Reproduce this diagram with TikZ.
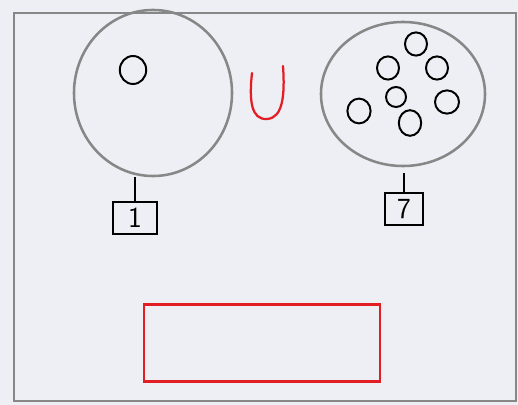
\documentclass[tikz,border=0pt]{standalone}
\usepackage{xcolor}
\usepackage{tikz}
\usetikzlibrary{positioning,shapes.geometric}
\definecolor{paper}{RGB}{237,239,244}
\definecolor{pencil}{RGB}{135,135,135}
\definecolor{marker}{RGB}{226,30,36}

\begin{document}
\begin{tikzpicture}[x=0.025cm,y=-0.025cm,
    bigset/.style={ellipse,draw=pencil,line width=1.8pt,inner sep=0pt},
    elem/.style={ellipse,draw=black,line width=1.4pt,inner sep=0pt,minimum width=0.55cm,minimum height=0.58cm},
    countbox/.style={draw=black,line width=1.5pt,font=\sffamily\huge,inner sep=0pt,minimum height=0.8cm}]
  \fill[paper] (0,0) rectangle (518,405);
  \useasboundingbox (0,0) rectangle (518,405);
  \draw[pencil,line width=1.8pt] (14,13) rectangle (516,401);
  % the two sets
  \node[bigset,minimum width=3.95cm,minimum height=4.15cm] (setA) at (153,93) {};
  \node[bigset,minimum width=4.1cm,minimum height=3.6cm] (setB) at (403,94) {};
  \node[elem,minimum width=0.66cm,minimum height=0.7cm] (a1) at (133,70) {};
  \node[elem] (b1) at (416,44) {};
  \node[elem] (b2) at (388,68) {};
  \node[elem] (b3) at (437,68) {};
  \node[elem,minimum width=0.5cm,minimum height=0.5cm] (b4) at (396,97) {};
  \node[elem,minimum width=0.6cm] (b5) at (447,102) {};
  \node[elem,minimum width=0.58cm,minimum height=0.62cm] (b6) at (359,111) {};
  \node[elem,minimum width=0.56cm,minimum height=0.64cm] (b7) at (410,123) {};
  % union sign
  \draw[marker,line width=1.6pt,line cap=round] (252,73) .. controls (249,100) and (251,120) .. (267,119)
    .. controls (283,118) and (285,95) .. (283,66);
  % how many in each
  \node[countbox,minimum width=1.12cm] (nA) at (135,218) {1};
  \node[countbox,minimum width=0.95cm] (nB) at (404,209) {7};
  \draw[black,line width=1.5pt] (nA.north) -- (nA.north |- setA.south);
  \draw[black,line width=1.5pt,shorten >=0.15cm] (nB.north) -- (nB.north |- setB.south);
  % the result
  \node[draw=marker,line width=1.6pt,minimum width=5.9cm,minimum height=1.93cm] (sum) at (262,343) {};
\end{tikzpicture}
\end{document}
